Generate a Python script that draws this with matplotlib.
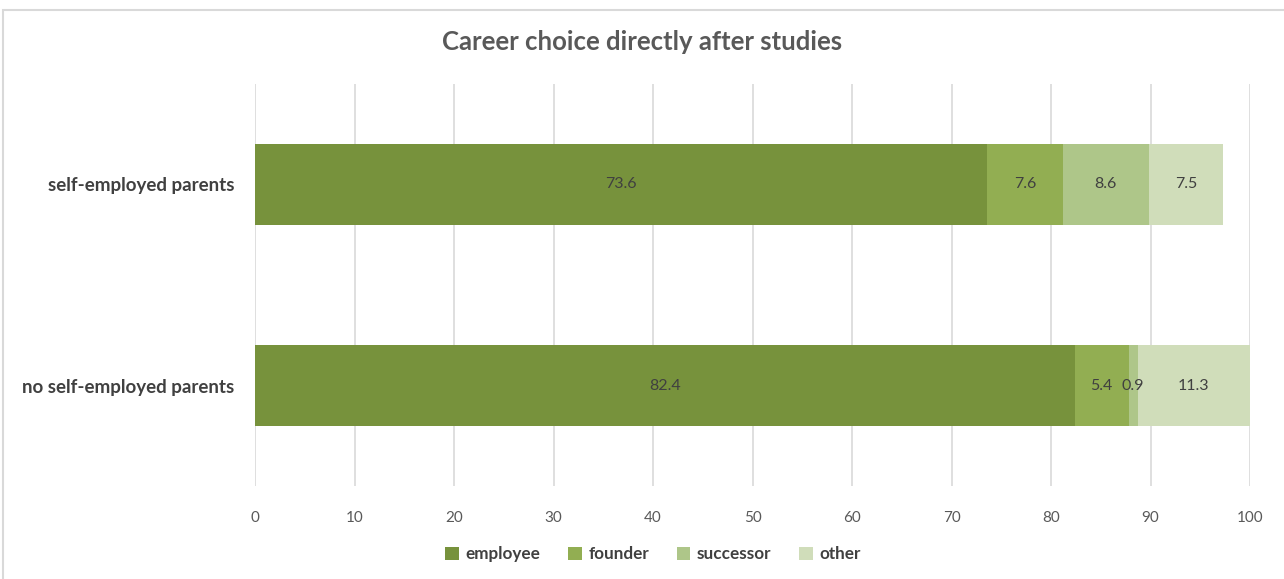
import numpy as np
import matplotlib.pyplot as plt
from matplotlib.patches import Rectangle

# data
groups = ['no self-employed parents', 'self-employed parents']
series = ['employee', 'founder', 'successor', 'other']
employee = [82.4, 73.6]
founder = [5.4, 7.6]
successor = [0.9, 8.6]
other = [11.3, 7.5]
colors = ['#77923C', '#92AE52', '#AEC689', '#D0DDBA']
xticks = list(range(0, 101, 10))

plt.rcParams['font.family'] = ['Lato', 'DejaVu Sans']

fig = plt.figure(figsize=(12.84, 5.79), dpi=100)
W, H = 1284, 579
ax = fig.add_axes([255 / W, 1 - 486 / H, (1250 - 255) / W, (486 - 84) / H])

# chart frame
fig.patches.append(Rectangle((3 / W, -0.1), 1.2, 1 - 10 / H + 0.1,
                             transform=fig.transFigure, fill=False,
                             edgecolor='#D9D9D9', linewidth=1.5))

y = np.arange(len(groups))
left = np.zeros(len(groups))
for name, vals, c in zip(series, [employee, founder, successor, other], colors):
    vals = np.array(vals)
    ax.barh(y, vals, left=left, height=0.4, color=c, label=name, zorder=3)
    for yi, l, v in zip(y, left, vals):
        ax.text(l + v / 2, yi, f'{v:.1f}', ha='center', va='center',
                fontsize=11.5, color='#404040', zorder=4)
    left = left + vals

ax.set_xlim(0, 100)
ax.set_ylim(-0.5, 1.5)
ax.set_xticks(xticks)
ax.set_yticks(y)
ax.set_yticklabels(groups, fontsize=13.5, fontweight='bold', color='#404040')
ax.tick_params(axis='x', length=0, labelsize=11, labelcolor='#595959', pad=18)
ax.tick_params(axis='y', length=0, pad=15)
ax.grid(axis='x', color='#D9D9D9', linewidth=1.2, zorder=0)
for s in ax.spines.values():
    s.set_visible(False)

fig.suptitle('Career choice directly after studies', y=1 - 42 / H, va='center',
             fontsize=18.5, fontweight='bold', color='#595959')

ax.legend(loc='center', bbox_to_anchor=(0.4, -0.17), ncol=4, frameon=False,
          handlelength=0.8, handleheight=0.8, handletextpad=0.4,
          columnspacing=1.6, labelcolor='#404040', prop={'weight': 'bold', 'size': 12.3})

fig.savefig('out.png', dpi=100)
